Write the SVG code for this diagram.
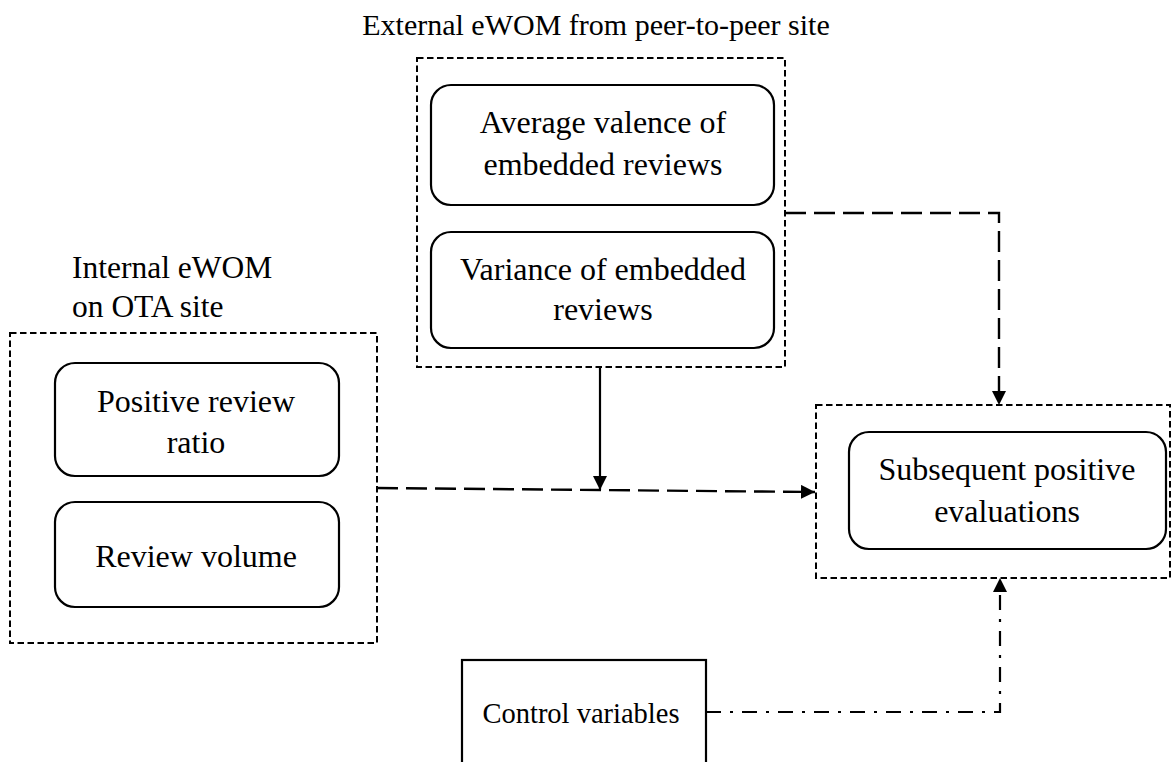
<svg xmlns="http://www.w3.org/2000/svg" width="1173" height="762" viewBox="0 0 1173 762">
<style>
text{font-family:'Liberation Serif','Times New Roman','DejaVu Serif',serif;font-size:32px;fill:#000;text-anchor:middle}
.title{font-size:30px}
.ctrl{font-size:28.5px}
.lbl{font-size:31.5px;text-anchor:start}
.grp{fill:none;stroke:#000;stroke-width:2;stroke-dasharray:6.5 3.5}
.node{fill:#fff;stroke:#000;stroke-width:2.2}
.dash{fill:none;stroke:#000;stroke-width:2.4;stroke-dasharray:21 8}
.solid{fill:none;stroke:#000;stroke-width:2.2}
.dashdot{fill:none;stroke:#000;stroke-width:2.2;stroke-dasharray:15 9 3 9}
</style>
<defs>
<marker id="arrL" viewBox="0 0 10 10" refX="10" refY="5" markerWidth="14" markerHeight="14" markerUnits="userSpaceOnUse" orient="auto">
<path d="M0,0 L10,5 L0,10 Z" fill="#000"/>
</marker>
</defs>
<rect width="1173" height="762" fill="#fff"/>

<g id="external">
<text class="title" x="596" y="35">External eWOM from peer-to-peer site</text>
<rect class="grp" x="417" y="58" width="368" height="309"/>
</g>
<g id="avg-valence">
<rect class="node" x="431" y="85" width="343" height="120" rx="20"/>
<text x="603" y="133">Average valence of</text>
<text x="603" y="175">embedded reviews</text>
</g>
<g id="variance">
<rect class="node" x="431" y="232" width="343" height="116" rx="20"/>
<text x="603" y="280">Variance of embedded</text>
<text x="603" y="320">reviews</text>
</g>

<g id="internal">
<text class="lbl" x="72" y="278">Internal eWOM</text>
<text class="lbl" x="72" y="317">on OTA site</text>
<rect class="grp" x="10" y="333" width="367" height="310"/>
</g>
<g id="positive-ratio">
<rect class="node" x="55" y="363" width="284" height="113" rx="20"/>
<text x="196" y="412">Positive review</text>
<text x="196" y="453">ratio</text>
</g>
<g id="review-volume">
<rect class="node" x="55" y="502" width="284" height="105" rx="20"/>
<text x="196" y="567">Review volume</text>
</g>

<g id="outcome">
<rect class="grp" x="816" y="405" width="354" height="173"/>
<rect class="node" x="849" y="432" width="317" height="117" rx="20"/>
<text x="1007" y="480">Subsequent positive</text>
<text x="1007" y="522">evaluations</text>
</g>

<g id="control">
<rect class="node" x="462" y="660" width="244" height="120"/>
<text class="ctrl" x="581" y="723">Control variables</text>
</g>

<g id="connectors">
<path class="dash" d="M377,488 L815,492" marker-end="url(#arrL)"/>
<path class="solid" d="M600,367 L600,490" marker-end="url(#arrL)"/>
<path class="dash" d="M785,213 L999,213 L999,405" marker-end="url(#arrL)"/>
<path class="dashdot" d="M706,712 L1000,712 L1000,578" marker-end="url(#arrL)"/>
</g>
</svg>
